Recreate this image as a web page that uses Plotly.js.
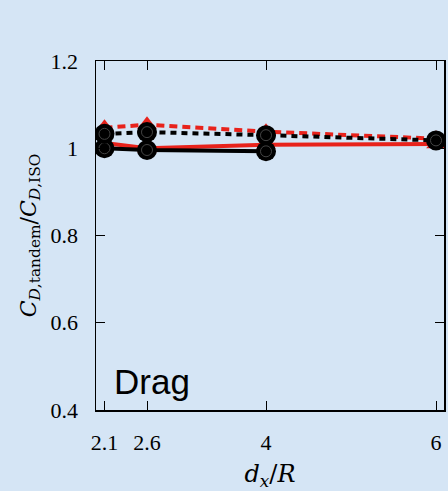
<!DOCTYPE html>
<html><head><meta charset="utf-8">
<script src="https://cdn.plot.ly/plotly-3.0.1.min.js"></script>
<style>html,body{margin:0;padding:0;background:#d5e5f5;}#c{width:448px;height:491px;}</style>
</head><body><div id="c"></div>
<script>
const xTickVals = [2.1, 2.6, 4, 6];
const xTickText = ['2.1', '2.6', '4', '6'];
const yTickVals = [0.4, 0.6, 0.8, 1.0, 1.2];
const yTickText = ['0.4', '0.6', '0.8', '1', '1.2'];
const xRed = [2.1, 2.6, 4, 6];
const redDashed = [1.047, 1.054, 1.038, 1.022];
const redSolid = [1.012, 1.0, 1.008, 1.01];
const xBlackDot = [2.1, 2.6, 4, 6];
const blackDotted = [1.033, 1.037, 1.03, 1.018];
const xBlackSolid = [2.1, 2.6, 4];
const blackSolid = [1.0, 0.996, 0.993];

const red = '#e8221b';
function circTraces(x, y, dash) {
  return [
    {x: x, y: y, mode: 'lines+markers', line: {color: '#000', width: 4, dash: dash},
     marker: {symbol: 'circle', size: 20, color: '#000'}, showlegend: false},
    {x: x, y: y, mode: 'markers',
     marker: {symbol: 'circle-open', size: 11, color: '#444', line: {width: 1, color: '#444'}}, showlegend: false}
  ];
}
const data = [
  {x: xRed, y: redSolid, mode: 'lines+markers', line: {color: red, width: 4},
   marker: {symbol: 'triangle-up', size: 17, color: red}, showlegend: false},
  {x: xRed, y: redDashed, mode: 'lines+markers', line: {color: red, width: 4, dash: '8px,5px'},
   marker: {symbol: 'triangle-up', size: 17, color: red}, showlegend: false},
  ...circTraces(xBlackSolid, blackSolid, 'solid'),
  ...circTraces(xBlackDot, blackDotted, '6px,5px')
];
const tickFont = {family: 'Liberation Serif, Times New Roman, serif', size: 22, color: '#000'};
const layout = {
  width: 448, height: 491,
  margin: {l: 96, r: 4, t: 61, b: 81},
  paper_bgcolor: '#d5e5f5', plot_bgcolor: '#d5e5f5',
  showlegend: false,
  xaxis: {range: [2.0, 6.094], tickvals: xTickVals, ticktext: xTickText,
    ticks: 'inside', ticklen: 9, tickwidth: 1, tickcolor: '#000',
    showline: true, linecolor: '#000', linewidth: 1.5, mirror: 'ticks',
    showgrid: false, zeroline: false, tickfont: tickFont, ticklabelstandoff: 12,
    title: {text: '<i>d<sub>x</sub></i>/<i>R</i>', font: {family: 'DejaVu Serif, serif', size: 24, color: '#000'}, standoff: 18}},
  yaxis: {range: [0.4, 1.2], tickvals: yTickVals, ticktext: yTickText,
    ticks: 'inside', ticklen: 9, tickwidth: 1, tickcolor: '#000',
    showline: true, linecolor: '#000', linewidth: 1.5, mirror: 'ticks',
    showgrid: false, zeroline: false, tickfont: tickFont, ticklabelstandoff: 12,
    title: {text: '<i>C</i><sub><i>D</i>,tandem</sub>/<i>C</i><sub><i>D</i>,ISO</sub>', font: {family: 'DejaVu Serif, serif', size: 22, color: '#000'}, standoff: 8}},
  annotations: [{xref: 'paper', yref: 'paper', x: 0.045, y: 0.02, xanchor: 'left', yanchor: 'bottom',
    text: 'Drag', showarrow: false, font: {family: 'Liberation Sans, Arial, sans-serif', size: 35, color: '#000'}}]
};
Plotly.newPlot('c', data, layout, {displayModeBar: false, staticPlot: true});
</script></body></html>
